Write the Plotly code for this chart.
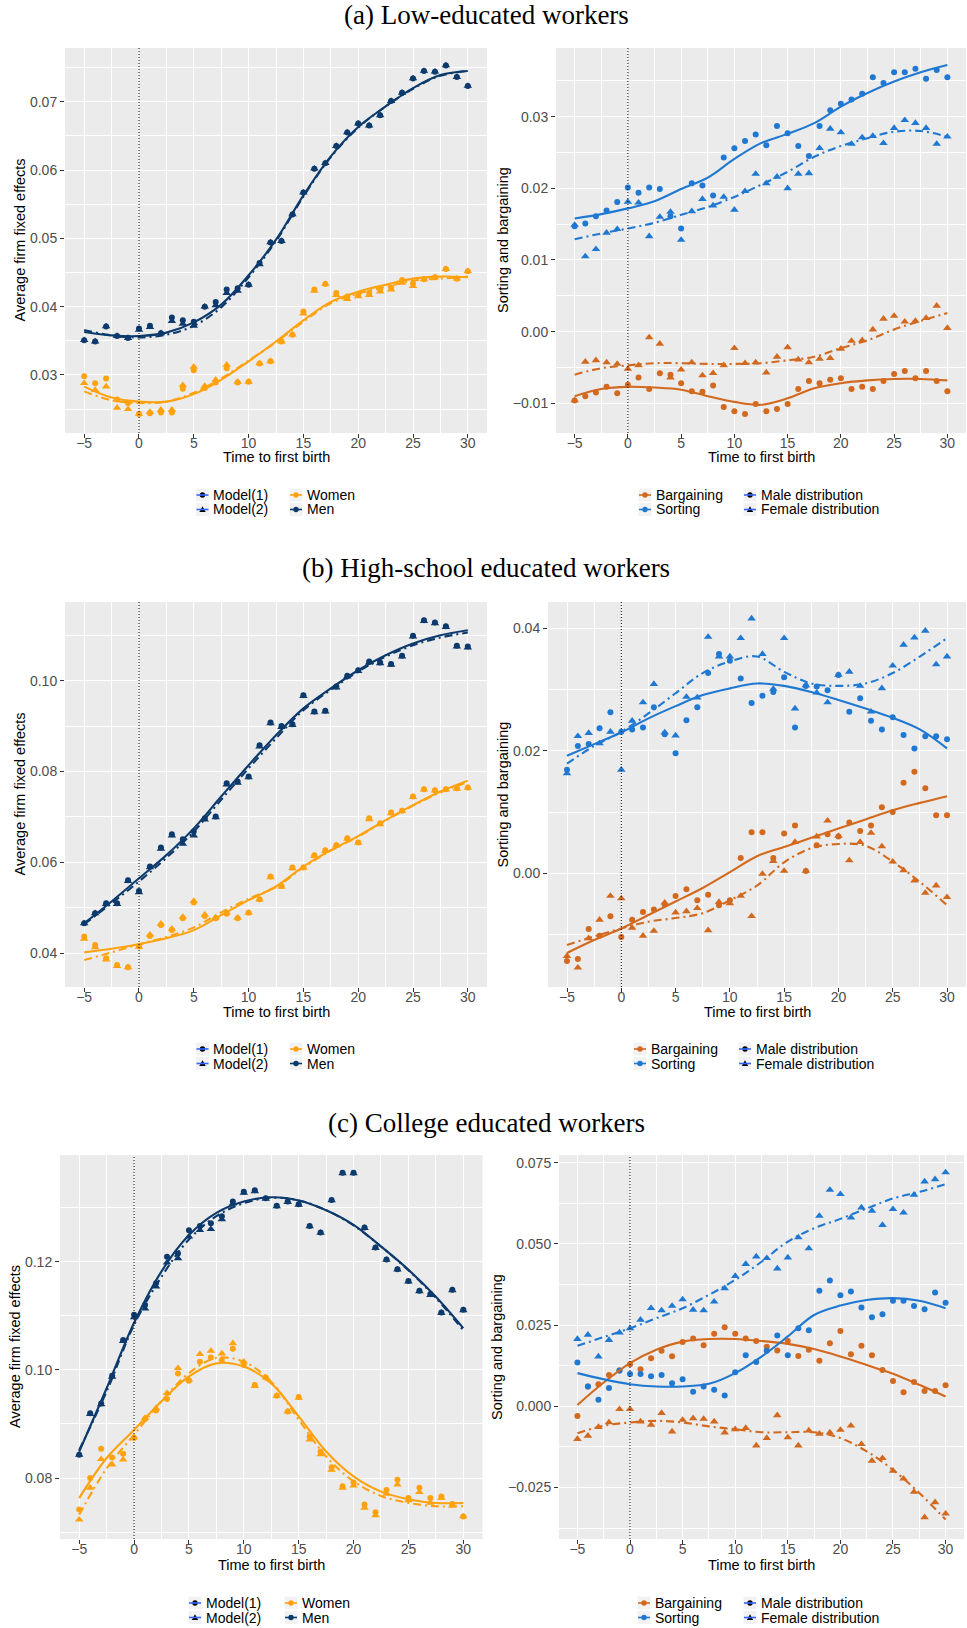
import plotly.graph_objects as go

W, H = 967, 1628

# ---------------- data ----------------
T = list(range(-5, 31))
T_FIT = [-5, -2.5, 0, 2.5, 5, 7.5, 10, 12.5, 15, 17.5, 20, 22.5, 25, 27.5, 30]

# (a) Low-educated: average firm fixed effects
a_men_m1 = [0.0351, 0.0349, 0.0371, 0.0357, 0.0354, 0.0368, 0.0372, 0.0361, 0.0384, 0.0380, 0.0378, 0.0400, 0.0407, 0.0425, 0.0427, 0.0432, 0.0464, 0.0494, 0.0496, 0.0535, 0.0567, 0.0602, 0.0610, 0.0635, 0.0655, 0.0668, 0.0665, 0.0680, 0.0701, 0.0713, 0.0734, 0.0745, 0.0744, 0.0753, 0.0736, 0.0723]
a_men_m2 = [0.0351, 0.0349, 0.0371, 0.0357, 0.0354, 0.0366, 0.0370, 0.0361, 0.0379, 0.0375, 0.0372, 0.0400, 0.0402, 0.0420, 0.0423, 0.0432, 0.0462, 0.0494, 0.0496, 0.0535, 0.0567, 0.0602, 0.0610, 0.0635, 0.0655, 0.0668, 0.0665, 0.0680, 0.0701, 0.0713, 0.0734, 0.0745, 0.0744, 0.0753, 0.0736, 0.0723]
a_women_m1 = [0.0298, 0.0288, 0.0295, 0.0264, 0.0259, 0.0243, 0.0244, 0.0245, 0.0245, 0.0280, 0.0307, 0.0281, 0.0289, 0.0310, 0.0289, 0.0290, 0.0317, 0.0320, 0.0349, 0.0359, 0.0393, 0.0425, 0.0433, 0.0420, 0.0415, 0.0417, 0.0420, 0.0425, 0.0428, 0.0439, 0.0434, 0.0440, 0.0443, 0.0455, 0.0441, 0.0452]
a_women_m2 = [0.0288, 0.0278, 0.0283, 0.0252, 0.0250, 0.0243, 0.0246, 0.0249, 0.0249, 0.0285, 0.0312, 0.0284, 0.0293, 0.0315, 0.0290, 0.0290, 0.0317, 0.0320, 0.0349, 0.0359, 0.0390, 0.0423, 0.0433, 0.0417, 0.0411, 0.0415, 0.0417, 0.0422, 0.0425, 0.0435, 0.0430, 0.0440, 0.0443, 0.0455, 0.0441, 0.0452]
a_men_fit1 = [0.0363, 0.0358, 0.0357, 0.0362, 0.0377, 0.0403, 0.0446, 0.0498, 0.0563, 0.0620, 0.0663, 0.0693, 0.0720, 0.0739, 0.0745]
a_men_fit2 = [0.0366, 0.0358, 0.0355, 0.0359, 0.0372, 0.0399, 0.0443, 0.0496, 0.0561, 0.0619, 0.0662, 0.0693, 0.0719, 0.0738, 0.0745]
a_women_fit1 = [0.0283, 0.0267, 0.0261, 0.0261, 0.0272, 0.0293, 0.0320, 0.0349, 0.0380, 0.0407, 0.0422, 0.0432, 0.0441, 0.0444, 0.0443]
a_women_fit2 = [0.0276, 0.0263, 0.0259, 0.0261, 0.0274, 0.0295, 0.0321, 0.0348, 0.0378, 0.0405, 0.0419, 0.0429, 0.0438, 0.0441, 0.0444]

# (a) Low-educated: sorting and bargaining
a_sort_m1 = [0.0147, 0.0151, 0.0161, 0.0169, 0.0181, 0.0201, 0.0194, 0.0201, 0.0199, 0.0161, 0.0144, 0.0207, 0.0204, 0.0190, 0.0243, 0.0256, 0.0266, 0.0275, 0.0260, 0.0287, 0.0277, 0.0259, 0.0245, 0.0287, 0.0309, 0.0318, 0.0324, 0.0332, 0.0355, 0.0347, 0.0362, 0.0362, 0.0367, 0.0353, 0.0365, 0.0355]
a_sort_m2 = [0.0149, 0.0105, 0.0115, 0.0138, 0.0143, 0.0181, 0.0180, 0.0133, 0.0160, 0.0167, 0.0128, 0.0168, 0.0185, 0.0176, 0.0188, 0.0170, 0.0196, 0.0220, 0.0207, 0.0216, 0.0200, 0.0220, 0.0221, 0.0256, 0.0283, 0.0278, 0.0262, 0.0271, 0.0273, 0.0263, 0.0284, 0.0295, 0.0291, 0.0284, 0.0262, 0.0272]
a_barg_m1 = [-0.0096, -0.0090, -0.0085, -0.0077, -0.0086, -0.0074, -0.0064, -0.0080, -0.0058, -0.0060, -0.0072, -0.0083, -0.0084, -0.0075, -0.0105, -0.0111, -0.0115, -0.0101, -0.0111, -0.0108, -0.0101, -0.0080, -0.0069, -0.0072, -0.0067, -0.0065, -0.0080, -0.0077, -0.0080, -0.0069, -0.0059, -0.0055, -0.0065, -0.0055, -0.0069, -0.0083]
a_barg_m2 = [-0.0096, -0.0042, -0.0040, -0.0043, -0.0045, -0.0052, -0.0047, -0.0008, -0.0017, -0.0064, -0.0053, -0.0043, -0.0061, -0.0058, -0.0047, -0.0023, -0.0044, -0.0043, -0.0057, -0.0035, -0.0022, -0.0039, -0.0043, -0.0038, -0.0037, -0.0024, -0.0013, -0.0012, 0.0003, 0.0018, 0.0022, 0.0014, 0.0015, 0.0019, 0.0036, 0.0005]
a_sort_fit1 = [0.0158, 0.0164, 0.0172, 0.0182, 0.0199, 0.0215, 0.0241, 0.0263, 0.0276, 0.0291, 0.0314, 0.0333, 0.0349, 0.0362, 0.0372]
a_sort_fit2 = [0.0129, 0.0137, 0.0144, 0.0152, 0.0163, 0.0174, 0.0188, 0.0205, 0.0223, 0.0244, 0.0259, 0.0270, 0.0279, 0.0280, 0.0272]
a_barg_fit1 = [-0.0090, -0.0080, -0.0077, -0.0078, -0.0081, -0.0090, -0.0098, -0.0102, -0.0093, -0.0079, -0.0072, -0.0068, -0.0066, -0.0066, -0.0068]
a_barg_fit2 = [-0.0060, -0.0051, -0.0047, -0.0044, -0.0044, -0.0045, -0.0045, -0.0044, -0.0040, -0.0035, -0.0023, -0.0012, 0.0003, 0.0015, 0.0026]

# (b) High-school: average firm fixed effects
b_men_m1 = [0.0466, 0.0488, 0.0510, 0.0510, 0.0561, 0.0537, 0.0591, 0.0633, 0.0662, 0.0651, 0.0668, 0.0697, 0.0701, 0.0774, 0.0778, 0.0789, 0.0858, 0.0908, 0.0900, 0.0904, 0.0968, 0.0932, 0.0934, 0.0987, 0.1011, 0.1023, 0.1042, 0.1040, 0.1037, 0.1055, 0.1099, 0.1133, 0.1128, 0.1120, 0.1077, 0.1075]
b_men_m2 = [0.0466, 0.0488, 0.0508, 0.0508, 0.0559, 0.0534, 0.0589, 0.0630, 0.0659, 0.0641, 0.0659, 0.0694, 0.0699, 0.0771, 0.0775, 0.0787, 0.0855, 0.0906, 0.0898, 0.0902, 0.0966, 0.0930, 0.0932, 0.0985, 0.1009, 0.1021, 0.1040, 0.1038, 0.1035, 0.1053, 0.1097, 0.1131, 0.1126, 0.1118, 0.1075, 0.1073]
b_women_m1 = [0.0437, 0.0418, 0.0389, 0.0374, 0.0369, 0.0415, 0.0438, 0.0462, 0.0451, 0.0477, 0.0512, 0.0482, 0.0477, 0.0487, 0.0477, 0.0489, 0.0519, 0.0569, 0.0548, 0.0589, 0.0589, 0.0616, 0.0627, 0.0638, 0.0653, 0.0644, 0.0697, 0.0686, 0.0710, 0.0714, 0.0745, 0.0761, 0.0759, 0.0761, 0.0763, 0.0765]
b_women_m2 = [0.0432, 0.0413, 0.0386, 0.0372, 0.0369, 0.0414, 0.0441, 0.0465, 0.0454, 0.0480, 0.0515, 0.0485, 0.0479, 0.0489, 0.0478, 0.0489, 0.0518, 0.0567, 0.0546, 0.0587, 0.0588, 0.0614, 0.0625, 0.0637, 0.0652, 0.0643, 0.0695, 0.0684, 0.0708, 0.0713, 0.0744, 0.0760, 0.0758, 0.0760, 0.0762, 0.0764]
b_men_fit1 = [0.0466, 0.0514, 0.0565, 0.0616, 0.0675, 0.0745, 0.0814, 0.0880, 0.0939, 0.0983, 0.1023, 0.1056, 0.1082, 0.1100, 0.1111]
b_men_fit2 = [0.0464, 0.0510, 0.0558, 0.0610, 0.0668, 0.0738, 0.0807, 0.0873, 0.0935, 0.0980, 0.1020, 0.1053, 0.1078, 0.1095, 0.1106]
b_women_fit1 = [0.0402, 0.0410, 0.0420, 0.0433, 0.0451, 0.0484, 0.0517, 0.0547, 0.0591, 0.0627, 0.0658, 0.0693, 0.0726, 0.0756, 0.0780]
b_women_fit2 = [0.0385, 0.0402, 0.0420, 0.0436, 0.0457, 0.0490, 0.0520, 0.0546, 0.0589, 0.0626, 0.0657, 0.0692, 0.0725, 0.0754, 0.0777]

# (b) High-school: sorting and bargaining
b_sort_m1 = [0.0169, 0.0208, 0.0211, 0.0237, 0.0263, 0.0231, 0.0235, 0.0238, 0.0271, 0.0227, 0.0196, 0.0250, 0.0271, 0.0327, 0.0358, 0.0347, 0.0318, 0.0278, 0.0290, 0.0296, 0.0320, 0.0238, 0.0306, 0.0305, 0.0299, 0.0324, 0.0264, 0.0286, 0.0249, 0.0235, 0.0255, 0.0226, 0.0204, 0.0224, 0.0224, 0.0219]
b_sort_m2 = [0.0163, 0.0224, 0.0229, 0.0212, 0.0231, 0.0169, 0.0249, 0.0279, 0.0309, 0.0230, 0.0225, 0.0288, 0.0287, 0.0386, 0.0354, 0.0354, 0.0384, 0.0416, 0.0358, 0.0301, 0.0384, 0.0269, 0.0307, 0.0295, 0.0279, 0.0324, 0.0329, 0.0306, 0.0264, 0.0302, 0.0339, 0.0373, 0.0385, 0.0396, 0.0341, 0.0354]
b_barg_m1 = [-0.0143, -0.0140, -0.0091, -0.0102, -0.0070, -0.0104, -0.0076, -0.0063, -0.0059, -0.0051, -0.0037, -0.0026, -0.0044, -0.0035, -0.0052, -0.0044, 0.0025, 0.0067, 0.0067, 0.0025, 0.0065, 0.0078, 0.0004, 0.0046, 0.0064, 0.0060, 0.0083, 0.0069, 0.0078, 0.0108, 0.0100, 0.0148, 0.0166, 0.0139, 0.0095, 0.0095]
b_barg_m2 = [-0.0135, -0.0154, -0.0106, -0.0076, -0.0037, -0.0041, -0.0089, -0.0102, -0.0094, -0.0048, -0.0064, -0.0062, -0.0057, -0.0093, -0.0047, -0.0049, -0.0037, -0.0070, -0.0001, 0.0020, 0.0004, 0.0051, 0.0004, 0.0060, 0.0086, 0.0061, 0.0021, 0.0051, 0.0066, 0.0044, 0.0019, 0.0005, -0.0012, -0.0032, -0.0020, -0.0039]
b_sort_fit1 = [0.0192, 0.0211, 0.0230, 0.0253, 0.0273, 0.0291, 0.0302, 0.0310, 0.0306, 0.0296, 0.0283, 0.0269, 0.0254, 0.0235, 0.0204]
b_sort_fit2 = [0.0179, 0.0208, 0.0231, 0.0261, 0.0294, 0.0327, 0.0346, 0.0354, 0.0329, 0.0310, 0.0306, 0.0310, 0.0327, 0.0354, 0.0384]
b_barg_fit1 = [-0.0130, -0.0109, -0.0090, -0.0068, -0.0046, -0.0024, 0.0002, 0.0028, 0.0043, 0.0058, 0.0073, 0.0088, 0.0103, 0.0115, 0.0126]
b_barg_fit2 = [-0.0117, -0.0103, -0.0090, -0.0079, -0.0073, -0.0065, -0.0044, -0.0020, 0.0018, 0.0041, 0.0048, 0.0045, 0.0019, -0.0014, -0.0052]

# (c) College: average firm fixed effects
c_men_m1 = [0.0843, 0.0920, 0.0938, 0.0989, 0.1055, 0.1102, 0.1120, 0.1160, 0.1209, 0.1215, 0.1258, 0.1266, 0.1271, 0.1284, 0.1311, 0.1329, 0.1332, 0.1317, 0.1303, 0.1311, 0.1306, 0.1266, 0.1254, 0.1314, 0.1364, 0.1364, 0.1263, 0.1226, 0.1204, 0.1186, 0.1164, 0.1146, 0.1140, 0.1106, 0.1148, 0.1111]
c_men_m2 = [0.0843, 0.0918, 0.0936, 0.0987, 0.1053, 0.1097, 0.1113, 0.1154, 0.1198, 0.1206, 0.1246, 0.1258, 0.1260, 0.1278, 0.1307, 0.1327, 0.1330, 0.1316, 0.1302, 0.1310, 0.1305, 0.1265, 0.1253, 0.1313, 0.1363, 0.1363, 0.1262, 0.1225, 0.1203, 0.1185, 0.1163, 0.1145, 0.1138, 0.1105, 0.1147, 0.1110]
c_women_m1 = [0.0742, 0.0800, 0.0854, 0.0838, 0.0845, 0.0874, 0.0909, 0.0925, 0.0946, 0.0993, 0.0980, 0.1015, 0.1023, 0.1018, 0.1039, 0.1009, 0.0972, 0.0986, 0.0952, 0.0923, 0.0950, 0.0877, 0.0849, 0.0820, 0.0785, 0.0792, 0.0751, 0.0737, 0.0778, 0.0797, 0.0763, 0.0782, 0.0763, 0.0766, 0.0752, 0.0729]
c_women_m2 = [0.0723, 0.0782, 0.0835, 0.0825, 0.0834, 0.0875, 0.0911, 0.0929, 0.0957, 0.1003, 0.0982, 0.1029, 0.1035, 0.1030, 0.1049, 0.1015, 0.0970, 0.0986, 0.0952, 0.0923, 0.0948, 0.0871, 0.0844, 0.0815, 0.0782, 0.0786, 0.0745, 0.0731, 0.0771, 0.0788, 0.0759, 0.0774, 0.0754, 0.0763, 0.0749, 0.0729]
c_men_fit1 = [0.0849, 0.0966, 0.1087, 0.1182, 0.1249, 0.1290, 0.1311, 0.1319, 0.1313, 0.1295, 0.1268, 0.1228, 0.1185, 0.1135, 0.1077]
c_men_fit2 = [0.0852, 0.0960, 0.1083, 0.1172, 0.1241, 0.1284, 0.1308, 0.1318, 0.1313, 0.1295, 0.1267, 0.1228, 0.1184, 0.1133, 0.1073]
c_women_fit1 = [0.0763, 0.0837, 0.0889, 0.0942, 0.0988, 0.1012, 0.1006, 0.0975, 0.0914, 0.0849, 0.0803, 0.0775, 0.0761, 0.0754, 0.0754]
c_women_fit2 = [0.0732, 0.0818, 0.0880, 0.0942, 0.0994, 0.1022, 0.1015, 0.0978, 0.0908, 0.0840, 0.0794, 0.0767, 0.0754, 0.0748, 0.0748]

# (c) College: sorting and bargaining
c_sort_m1 = [0.0135, 0.0061, 0.0020, 0.0056, 0.0110, 0.0099, 0.0099, 0.0092, 0.0096, 0.0071, 0.0083, 0.0045, 0.0061, 0.0051, 0.0033, 0.0105, 0.0157, 0.0136, 0.0171, 0.0218, 0.0157, 0.0240, 0.0234, 0.0356, 0.0387, 0.0342, 0.0353, 0.0304, 0.0274, 0.0283, 0.0325, 0.0325, 0.0309, 0.0299, 0.0350, 0.0319]
c_sort_m2 = [0.0207, 0.0220, 0.0153, 0.0204, 0.0227, 0.0240, 0.0266, 0.0302, 0.0295, 0.0309, 0.0329, 0.0297, 0.0295, 0.0322, 0.0363, 0.0401, 0.0438, 0.0461, 0.0456, 0.0424, 0.0458, 0.0520, 0.0486, 0.0586, 0.0666, 0.0653, 0.0581, 0.0612, 0.0602, 0.0558, 0.0607, 0.0596, 0.0651, 0.0692, 0.0699, 0.0720]
c_barg_m1 = [-0.0030, 0.0061, 0.0068, 0.0096, 0.0110, 0.0129, 0.0114, 0.0148, 0.0171, 0.0154, 0.0198, 0.0209, 0.0188, 0.0223, 0.0243, 0.0223, 0.0209, 0.0201, 0.0183, 0.0172, 0.0201, 0.0155, 0.0174, 0.0140, 0.0194, 0.0232, 0.0160, 0.0186, 0.0157, 0.0112, 0.0078, 0.0043, 0.0075, 0.0047, 0.0047, 0.0065]
c_barg_m2 = [-0.0101, -0.0091, -0.0064, -0.0050, -0.0009, -0.0009, -0.0047, -0.0057, -0.0021, -0.0078, -0.0042, -0.0037, -0.0039, -0.0047, -0.0081, -0.0071, -0.0067, -0.0121, -0.0098, -0.0028, -0.0096, -0.0121, -0.0075, -0.0085, -0.0081, -0.0073, -0.0060, -0.0117, -0.0168, -0.0160, -0.0199, -0.0223, -0.0264, -0.0342, -0.0296, -0.0331]
c_sort_fit1 = [0.0102, 0.0083, 0.0068, 0.0061, 0.0061, 0.0069, 0.0102, 0.0153, 0.0215, 0.0281, 0.0310, 0.0327, 0.0333, 0.0325, 0.0302]
c_sort_fit2 = [0.0186, 0.0213, 0.0240, 0.0271, 0.0302, 0.0343, 0.0389, 0.0445, 0.0507, 0.0548, 0.0577, 0.0609, 0.0640, 0.0660, 0.0684]
c_barg_fit1 = [0.0004, 0.0073, 0.0133, 0.0174, 0.0199, 0.0207, 0.0207, 0.0201, 0.0192, 0.0176, 0.0153, 0.0127, 0.0100, 0.0066, 0.0030]
c_barg_fit2 = [-0.0083, -0.0060, -0.0050, -0.0045, -0.0050, -0.0062, -0.0071, -0.0080, -0.0080, -0.0080, -0.0098, -0.0139, -0.0196, -0.0267, -0.0349]

X_TICKS = [-5, 0, 5, 10, 15, 20, 25, 30]
PANEL_TITLES = ["(a) Low-educated workers", "(b) High-school educated workers", "(c) College educated workers"]
LEFT_LEGEND = ["Model(1)", "Model(2)", "Women", "Men"]
RIGHT_LEGEND = ["Bargaining", "Sorting", "Male distribution", "Female distribution"]

# ---------------- style ----------------
MEN = "#0C3A6C"
WOMEN = "#FFA20F"
SORT = "#1F78D1"
BARG = "#D2691E"
KEYLINE = "#3366FF"
DASH2 = "8px,4px,2px,4px"
SANS = "Liberation Sans, Arial, sans-serif"
SERIF = "Liberation Serif, Times New Roman, serif"


def px(x):
    return x / W


def py(y):
    return 1 - y / H


panels = [
    dict(dx=(65, 487), dy=(48, 433), yr=(0.02151, 0.07786), dt=0.01, mn=0.005, fmt=".2f",
         series=[(a_women_m1, a_women_m2, a_women_fit1, a_women_fit2, WOMEN),
                 (a_men_m1, a_men_m2, a_men_fit1, a_men_fit2, MEN)],
         ytitle="Average firm fixed effects", ytx=20, xty=457),
    dict(dx=(556, 966), dy=(48, 433), yr=(-0.01414, 0.03958), dt=0.01, mn=0.005, fmt=".2f",
         series=[(a_barg_m1, a_barg_m2, a_barg_fit1, a_barg_fit2, BARG),
                 (a_sort_m1, a_sort_m2, a_sort_fit1, a_sort_fit2, SORT)],
         ytitle="Sorting and bargaining", ytx=503.5, xty=457),
    dict(dx=(65, 487), dy=(602, 987), yr=(0.03258, 0.11732), dt=0.02, mn=0.01, fmt=".2f",
         series=[(b_women_m1, b_women_m2, b_women_fit1, b_women_fit2, WOMEN),
                 (b_men_m1, b_men_m2, b_men_fit1, b_men_fit2, MEN)],
         ytitle="Average firm fixed effects", ytx=20, xty=1012),
    dict(dx=(548, 966), dy=(602, 987), yr=(-0.01856, 0.0443), dt=0.02, mn=0.01, fmt=".2f",
         series=[(b_barg_m1, b_barg_m2, b_barg_fit1, b_barg_fit2, BARG),
                 (b_sort_m1, b_sort_m2, b_sort_fit1, b_sort_fit2, SORT)],
         ytitle="Sorting and bargaining", ytx=503, xty=1012),
    dict(dx=(60, 482.5), dy=(1155, 1539), yr=(0.06874, 0.1397), dt=0.02, mn=0.01, fmt=".2f",
         series=[(c_women_m1, c_women_m2, c_women_fit1, c_women_fit2, WOMEN),
                 (c_men_m1, c_men_m2, c_men_fit1, c_men_fit2, MEN)],
         ytitle="Average firm fixed effects", ytx=15, xty=1565),
    dict(dx=(559, 964), dy=(1155, 1539), yr=(-0.04088, 0.07737), dt=0.025, mn=0.0125, fmt=".3f",
         series=[(c_barg_m1, c_barg_m2, c_barg_fit1, c_barg_fit2, BARG),
                 (c_sort_m1, c_sort_m2, c_sort_fit1, c_sort_fit2, SORT)],
         ytitle="Sorting and bargaining", ytx=497, xty=1565),
]

fig = go.Figure()
layout = dict(
    width=W, height=H, margin=dict(l=0, r=0, t=0, b=0),
    paper_bgcolor="white", plot_bgcolor="#EBEBEB", showlegend=False,
    font=dict(family=SANS, size=14, color="#4D4D4D"),
)
annotations = []
shapes = []

for i, p in enumerate(panels, start=1):
    sx = "" if i == 1 else str(i)
    xa, ya = "x" + sx, "y" + sx
    # points
    for (m1, m2, f1, f2, col) in p["series"]:
        fig.add_trace(go.Scatter(x=T, y=m1, xaxis=xa, yaxis=ya, mode="markers",
                                 marker=dict(symbol="circle", size=6, color=col), hoverinfo="skip"))
        fig.add_trace(go.Scatter(x=T, y=m2, xaxis=xa, yaxis=ya, mode="markers",
                                 marker=dict(symbol="triangle-up", size=7.5, color=col), hoverinfo="skip"))
    # smooth lines
    for (m1, m2, f1, f2, col) in p["series"]:
        fig.add_trace(go.Scatter(x=T_FIT, y=f1, xaxis=xa, yaxis=ya, mode="lines",
                                 line=dict(color=col, width=2.1, shape="spline", smoothing=1.0),
                                 hoverinfo="skip"))
        fig.add_trace(go.Scatter(x=T_FIT, y=f2, xaxis=xa, yaxis=ya, mode="lines",
                                 line=dict(color=col, width=2.1, dash=DASH2, shape="spline", smoothing=1.0),
                                 hoverinfo="skip"))
    x0, x1 = p["dx"]
    y0, y1 = p["dy"]
    layout["xaxis" + sx] = dict(
        domain=[px(x0), px(x1)], anchor=ya, range=[-6.75, 31.75],
        tickmode="array", tickvals=X_TICKS, ticks="outside", ticklen=4, tickwidth=1,
        tickcolor="#333333", showgrid=True, gridcolor="white", gridwidth=1.2,
        zeroline=False, showline=False, tickfont=dict(size=14, color="#4D4D4D"),
        ticklabelstandoff=-7,
        minor=dict(dtick=2.5, tick0=-5, showgrid=True, gridcolor="white", gridwidth=0.6, ticks=""),
        fixedrange=True,
    )
    layout["yaxis" + sx] = dict(
        domain=[py(y1), py(y0)], anchor=xa, range=list(p["yr"]),
        tick0=0, dtick=p["dt"], tickformat=p["fmt"], ticks="outside", ticklen=4, tickwidth=1,
        tickcolor="#333333", showgrid=True, gridcolor="white", gridwidth=1.2,
        zeroline=False, showline=False, tickfont=dict(size=14, color="#4D4D4D"),
        minor=dict(dtick=p["mn"], tick0=0, showgrid=True, gridcolor="white", gridwidth=0.6, ticks=""),
        fixedrange=True,
    )
    # dotted vertical line at first birth
    shapes.append(dict(type="line", xref=xa, yref=ya + " domain", x0=0, x1=0, y0=0, y1=1,
                       line=dict(color="black", width=1, dash="1px,2px"), layer="above"))
    # axis titles
    annotations.append(dict(text="Time to first birth", xref="paper", yref="paper",
                            x=px((x0 + x1) / 2), y=py(p["xty"]), showarrow=False,
                            xanchor="center", yanchor="middle",
                            font=dict(family=SANS, size=14.5, color="black")))
    annotations.append(dict(text=p["ytitle"], xref="paper", yref="paper", textangle=-90,
                            x=px(p["ytx"]), y=py((y0 + y1) / 2), showarrow=False,
                            xanchor="center", yanchor="middle",
                            font=dict(family=SANS, size=14.5, color="black")))

# panel titles
for title, ty in zip(PANEL_TITLES, [15, 568, 1123]):
    annotations.append(dict(text=title, xref="paper", yref="paper", x=px(486), y=py(ty),
                            showarrow=False, xanchor="center", yanchor="middle",
                            font=dict(family=SERIF, size=27, color="black")))


# ---------------- manual ggplot-style legends ----------------
def legend_key(cx, cy, line_col, mark_col, mark):
    shapes.append(dict(type="rect", xref="paper", yref="paper",
                       x0=px(cx - 6.5), x1=px(cx + 6.5), y0=py(cy + 6.5), y1=py(cy - 6.5),
                       fillcolor="#F2F2F2", line=dict(width=0), layer="above"))
    if mark == "circle":
        shapes.append(dict(type="circle", xref="paper", yref="paper",
                           x0=px(cx - 2.7), x1=px(cx + 2.7), y0=py(cy + 2.7), y1=py(cy - 2.7),
                           fillcolor=mark_col, line=dict(width=0), layer="above"))
    else:
        shapes.append(dict(type="path", xref="paper", yref="paper",
                           path=f"M {px(cx-3.2)},{py(cy+2.6)} L {px(cx+3.2)},{py(cy+2.6)} L {px(cx)},{py(cy-3.2)} Z",
                           fillcolor=mark_col, line=dict(width=0), layer="above"))
    shapes.append(dict(type="line", xref="paper", yref="paper",
                       x0=px(cx - 6), x1=px(cx + 6), y0=py(cy), y1=py(cy),
                       line=dict(color=line_col, width=1.6), layer="above"))


def legend_text(x, y, text):
    annotations.append(dict(text=text, xref="paper", yref="paper", x=px(x), y=py(y),
                            showarrow=False, xanchor="left", yanchor="middle",
                            font=dict(family=SANS, size=14, color="black")))


legend_rows = [(495, 509.5), (1049, 1063.5), (1603, 1617.5)]
left_cols = [(202.5, 296), (202.5, 296), (195, 291)]
right_cols = [(645, 750), (640, 745), (644, 750)]
left_keys = [(KEYLINE, "black", "circle"), (KEYLINE, "black", "triangle"),
             (WOMEN, WOMEN, "circle"), (MEN, MEN, "circle")]
right_keys = [(BARG, BARG, "circle"), (SORT, SORT, "circle"),
              (KEYLINE, "black", "circle"), (KEYLINE, "black", "triangle")]

for (r1, r2), (lc1, lc2), (rc1, rc2) in zip(legend_rows, left_cols, right_cols):
    pos_left = [(lc1, r1), (lc1, r2), (lc2, r1), (lc2, r2)]
    pos_right = [(rc1, r1), (rc1, r2), (rc2, r1), (rc2, r2)]
    for (cx, cy), key, lab in zip(pos_left, left_keys, LEFT_LEGEND):
        legend_key(cx, cy, *key)
        legend_text(cx + 8.5, cy, lab)
    for (cx, cy), key, lab in zip(pos_right, right_keys, RIGHT_LEGEND):
        legend_key(cx, cy, *key)
        legend_text(cx + 8.5, cy, lab)

layout["annotations"] = annotations
layout["shapes"] = shapes
fig.update_layout(**layout)
fig.write_html("out.html")
